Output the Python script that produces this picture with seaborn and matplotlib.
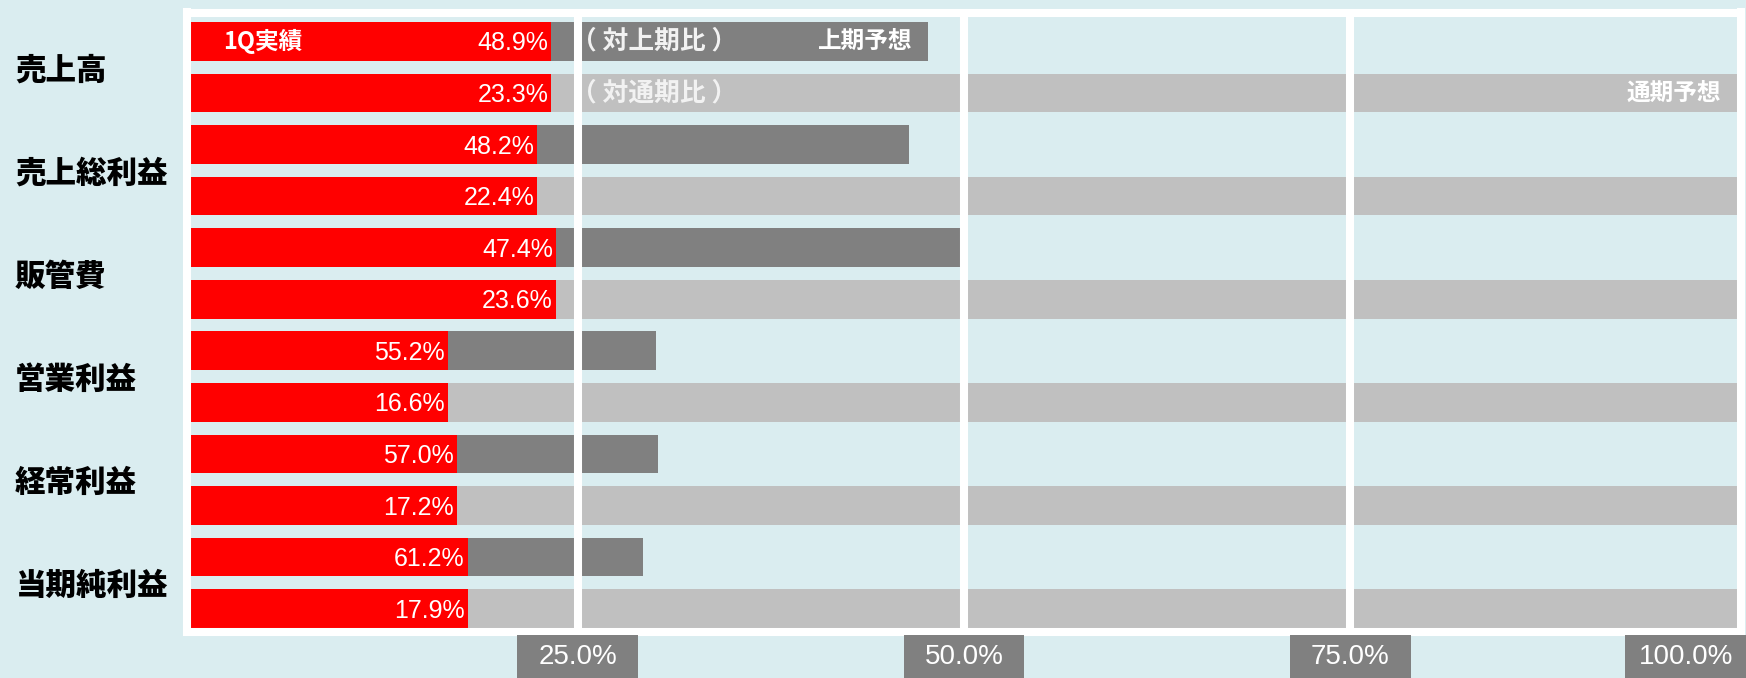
import numpy as np
import pandas as pd
import matplotlib
matplotlib.use('Agg')
import matplotlib.pyplot as plt
import matplotlib.transforms as mtransforms
from matplotlib.patches import Rectangle
import seaborn as sns

# ---- data ----
categories = ['売上高', '売上総利益', '販管費', '営業利益', '経常利益', '当期純利益']
half_ratio = [48.9, 48.2, 47.4, 55.2, 57.0, 61.2]   # 1Q実績 対上期比 (%)
full_ratio = [23.3, 22.4, 23.6, 16.6, 17.2, 17.9]   # 1Q実績 対通期比 (%)
tick_values = [25.0, 50.0, 75.0, 100.0]
tick_labels = ['25.0%', '50.0%', '75.0%', '100.0%']

BG = '#DAEDF0'
RED = '#FF0000'
DARK = '#808080'
LIGHT = '#C0C0C0'

sns.set_style('white')
plt.rcParams['font.family'] = ['Noto Sans CJK JP', 'DejaVu Sans']

rows = []
for c, h, f in zip(categories, half_ratio, full_ratio):
    rows.append(dict(row=c + '_H', kind='上期', forecast=f / h, actual=f / 100, label=h))
    rows.append(dict(row=c + '_F', kind='通期', forecast=1.0, actual=f / 100, label=f))
df = pd.DataFrame(rows)

W, H = 1746, 678
fig = plt.figure(figsize=(W / 100, H / 100), dpi=100, facecolor=BG)
ax = fig.add_axes([187 / W, 1 - 632 / H, (1741 - 187) / W, (632 - 12.5) / H])
ax.set_facecolor(BG)

sns.barplot(data=df, y='row', x='forecast', hue='kind', order=list(df['row']),
            hue_order=['上期', '通期'], palette={'上期': DARK, '通期': LIGHT},
            dodge=False, width=0.75, legend=False, orient='h', errorbar=None,
            saturation=1, linewidth=0, ax=ax, zorder=1)
sns.barplot(data=df, y='row', x='actual', order=list(df['row']), color=RED,
            width=0.75, orient='h', errorbar=None, saturation=1, linewidth=0,
            ax=ax, zorder=2)

ax.set_xlim(-0.0026, 1.0026)
ax.set_ylim(11.452, -0.558)
ax.set_xticks([])
ax.set_yticks([])
ax.set_xlabel('')
ax.set_ylabel('')
for sp in ax.spines.values():
    sp.set_color('white')
    sp.set_linewidth(5.8)
    sp.set_visible(True)

for t in tick_values[:-1]:
    ax.axvline(t / 100, color='white', lw=5.8, zorder=3)

num_font = ['Liberation Sans', 'DejaVu Sans']
for i, r in df.iterrows():
    ax.text(r['actual'] - 0.002, i + 0.04, f"{r['label']:.1f}%", ha='right', va='center',
            color='white', fontsize=18, family=num_font, zorder=4)

# annotations inside bars
ax.text(0.0207, 0, '1Q実績', ha='left', va='center', color='white', fontsize=17,
        fontweight='bold', zorder=4)
ax.text(0.2455, 0, '（ 対上期比 ）', ha='left', va='center', color='#F2F2F2', fontsize=18.5,
        fontweight='bold', zorder=4)
ax.text(0.2455, 1, '（ 対通期比 ）', ha='left', va='center', color='#F2F2F2', fontsize=18.5,
        fontweight='bold', zorder=4)
ax.text(df['forecast'][0] - 0.01, 0, '上期予想', ha='right', va='center', color='white',
        fontsize=17, fontweight='bold', zorder=4)
ax.text(0.99, 1, '通期予想', ha='right', va='center', color='white', fontsize=17,
        fontweight='bold', zorder=4)

# category labels
lab_tr = mtransforms.blended_transform_factory(fig.transFigure, ax.transData)
for k, c in enumerate(categories):
    ax.text(15 / W, 2 * k + 0.55, c, transform=lab_tr, ha='left', va='center',
            fontsize=22, fontweight='black', color='black')

# tick label boxes
fig.canvas.draw()
box_tr = mtransforms.blended_transform_factory(ax.transData, fig.transFigure)
fig_right = ax.transData.inverted().transform(fig.transFigure.transform((1, 0)))[0]
bw = 0.078
tick_font = ['Liberation Sans Narrow', 'Liberation Sans', 'DejaVu Sans']
for t, lab in zip(tick_values, tick_labels):
    cx = min(t / 100, fig_right - bw / 2)
    ax.add_patch(Rectangle((cx - bw / 2, 0), bw, 1 - 635 / H, transform=box_tr,
                           facecolor=DARK, edgecolor='none', clip_on=False, zorder=5))
    ax.text(cx, 1 - 657 / H, lab, transform=box_tr, ha='center', va='center',
            color='white', fontsize=20, family=tick_font, zorder=6, clip_on=False)

fig.savefig('out.png', dpi=100, facecolor=BG)
